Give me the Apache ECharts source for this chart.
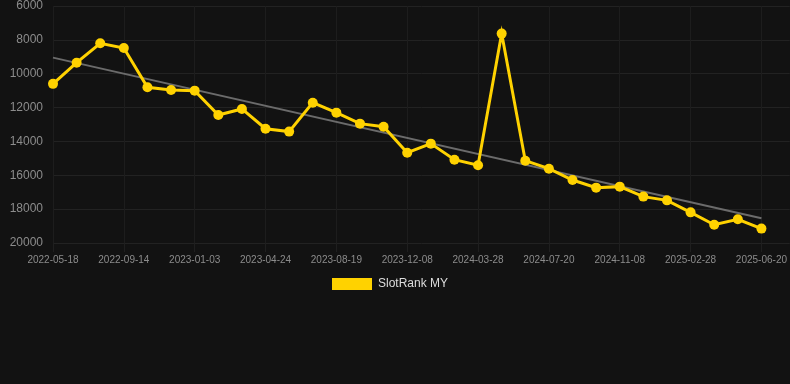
<!DOCTYPE html>
<html>
<head>
<meta charset="utf-8">
<script src="https://cdn.jsdelivr.net/npm/echarts@6/dist/echarts.min.js"></script>
<style>
  html, body { margin: 0; padding: 0; background: #121212; }
  #chart { width: 790px; height: 384px; }
</style>
</head>
<body>
<div id="chart"></div>
<script>
// dates (every third one shown on the axis)
var dates = [
  '2022-05-18', '2022-06-27', '2022-08-05', '2022-09-14', '2022-10-21', '2022-11-27',
  '2023-01-03', '2023-02-08', '2023-03-18', '2023-04-24', '2023-05-31', '2023-07-12',
  '2023-08-19', '2023-09-25', '2023-10-31', '2023-12-08', '2024-01-14', '2024-02-20',
  '2024-03-28', '2024-05-04', '2024-06-12', '2024-07-20', '2024-08-26', '2024-10-02',
  '2024-11-08', '2024-12-15', '2025-01-21', '2025-02-28', '2025-04-06', '2025-05-13',
  '2025-06-20'
];

// rank values
var rankMY = [
  10600, 9350, 8200, 8480, 10800, 10960, 11000, 12440, 12080, 13250,
  13420, 11710, 12300, 12950, 13130, 14670, 14130, 15080, 15410, 7630,
  15140, 15610, 16280, 16730, 16670, 17260, 17480, 18190, 18920, 18600,
  19150
];

// trend line end points (first and last date)
var trendStart = 9050;
var trendEnd = 18540;

var lineData = rankMY.map(function (v, i) { return [i, v]; });
var trendData = [[0, trendStart], [dates.length - 1, trendEnd]];

var font = 'Liberation Sans, Arial, sans-serif';

var chart = echarts.init(document.getElementById('chart'));
var option = {
  backgroundColor: '#121212',
  animation: false,
  grid: {
    left: 53,
    right: 0,
    top: 6,
    bottom: 141
  },
  legend: {
    top: 273,
    left: 327,
    itemWidth: 40,
    itemHeight: 12,
    itemGap: 10,
    icon: 'rect',
    textStyle: {
      color: '#dddddd',
      fontSize: 12,
      padding: [0, 0, 0, 1],
      fontFamily: font
    },
    data: ['SlotRank MY']
  },
  xAxis: {
    type: 'value',
    min: 0,
    max: 31.2,
    interval: 3,
    axisLine: { show: false },
    axisTick: {
      show: true,
      length: 9,
      lineStyle: { color: '#1f1f1f' }
    },
    axisLabel: {
      color: '#8c8c8c',
      fontSize: 10,
      margin: 12,
      showMaxLabel: false,
      fontFamily: font,
      formatter: function (v) {
        return dates[v] || '';
      }
    },
    splitLine: {
      show: true,
      lineStyle: { color: '#1d1d1d', width: 1 }
    }
  },
  yAxis: {
    type: 'value',
    inverse: true,
    min: 6000,
    max: 20000,
    interval: 2000,
    axisLine: { show: false },
    axisTick: { show: false },
    axisLabel: {
      color: '#8c8c8c',
      fontSize: 12,
      margin: 10,
      fontFamily: font,
      formatter: function (v) {
        return String(v);
      }
    },
    splitLine: {
      lineStyle: { color: '#222222', width: 1 }
    }
  },
  series: [{
    name: 'SlotRank MY',
    type: 'line',
    data: lineData,
    color: '#ffd200',
    symbol: 'circle',
    symbolSize: 10,
    z: 3,
    lineStyle: {
      width: 3,
      color: '#ffd200',
      join: 'miter',
      miterLimit: 10
    },
    itemStyle: { color: '#ffd200' }
  }, {
    name: 'trend',
    type: 'line',
    data: trendData,
    symbol: 'none',
    z: 2,
    lineStyle: { width: 2, color: '#6b6b6b' }
  }]
};
chart.setOption(option);
</script>
</body>
</html>
